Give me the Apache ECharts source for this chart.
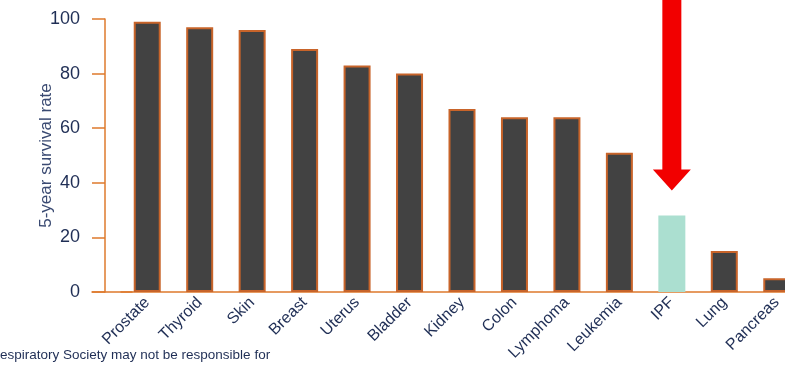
<!DOCTYPE html>
<html>
<head>
<meta charset="utf-8">
<script src="https://cdn.jsdelivr.net/npm/echarts@6/dist/echarts.min.js"></script>
<style>
  html, body { margin: 0; padding: 0; background: #ffffff; }
  #chart { width: 785px; height: 368px; }
</style>
</head>
<body>
<div id="chart"></div>
<script>
// 5-year survival rate by disease
const categories = ['Prostate', 'Thyroid', 'Skin', 'Breast', 'Uterus', 'Bladder', 'Kidney',
                    'Colon', 'Lymphoma', 'Leukemia', 'IPF', 'Lung', 'Pancreas'];
const survival = [99, 97, 96, 89, 83, 80, 67, 64, 64, 51, 28, 15, 5];
const highlighted = 'IPF';
const yTicks = [0, 20, 40, 60, 80, 100];

const axisOrange = '#DE7A2C';
const barDark = '#424242';
const barEdge = '#C8642A';
const highlightFill = '#ABDFD0';
const textNavy = '#1F2E55';
const fontFamily = '"Liberation Sans", Arial, sans-serif';

const chart = echarts.init(document.getElementById('chart'), null, { renderer: 'canvas' });

const barData = categories.map((c, i) => {
  if (c === highlighted) {
    return { value: survival[i], itemStyle: { color: highlightFill, borderWidth: 0 } };
  }
  return survival[i];
});

const option = {
  animation: false,
  backgroundColor: '#ffffff',
  grid: [
    // plot area runs past the right edge so the last bar is partly cut off
    { left: 121, top: 19, bottom: 76, right: -18, containLabel: false, outerBoundsMode: 'none' },
    // short stub that carries the baseline back to the value axis ticks
    { left: 92, top: 19, bottom: 76, width: 40, containLabel: false, outerBoundsMode: 'none' }
  ],
  xAxis: [
    {
      type: 'category',
      data: categories,
      gridIndex: 0,
      boundaryGap: true,
      axisLine: { show: true, lineStyle: { color: axisOrange, width: 1.5 } },
      axisTick: { show: false },
      axisLabel: {
        rotate: 45,
        margin: 8,
        color: textNavy,
        fontFamily: fontFamily,
        fontSize: 16,
        interval: 0
      }
    },
    {
      type: 'value',
      gridIndex: 1,
      min: 0,
      max: 1,
      axisLine: { show: true, onZero: false, lineStyle: { color: axisOrange, width: 1.5 } },
      axisTick: { show: false },
      axisLabel: { show: false },
      splitLine: { show: false }
    }
  ],
  yAxis: [
    {
      type: 'value',
      gridIndex: 0,
      min: yTicks[0],
      max: yTicks[yTicks.length - 1],
      interval: yTicks[1] - yTicks[0],
      offset: 16,
      name: '5-year survival rate',
      nameLocation: 'middle',
      nameGap: 50,
      nameMoveOverlap: false,
      nameTextStyle: {
        color: '#3A4A72',
        fontFamily: fontFamily,
        fontSize: 17
      },
      axisLine: { show: true, lineStyle: { color: axisOrange, width: 1.5 } },
      axisTick: { show: true, length: 13, lineStyle: { color: axisOrange, width: 1.5 } },
      axisLabel: {
        margin: 25,
        color: textNavy,
        fontFamily: fontFamily,
        fontSize: 18
      },
      splitLine: { show: false }
    },
    {
      type: 'value',
      gridIndex: 1,
      show: false,
      min: 0,
      max: 100
    }
  ],
  series: [
    {
      type: 'bar',
      xAxisIndex: 0,
      yAxisIndex: 0,
      data: barData,
      barWidth: 27,
      itemStyle: { color: barDark, borderColor: barEdge, borderWidth: 2 },
      markPoint: {
        silent: true,
        data: [{
          coord: [highlighted, survival[categories.indexOf(highlighted)]],
          symbol: 'path://M9.5,0 L28.5,0 L28.5,171 L38,171 L19,192 L0,171 L9.5,171 Z',
          symbolSize: [38, 192],
          symbolOffset: [0, -121],
          itemStyle: { color: '#F20000' },
          label: { show: false }
        }]
      }
    }
  ],
  graphic: [
    {
      type: 'text',
      left: 0,
      top: 348,
      style: {
        text: 'espiratory Society may not be responsible for',
        fill: textNavy,
        font: '13.5px "Liberation Sans", Arial, sans-serif'
      }
    }
  ]
};

chart.setOption(option);
</script>
</body>
</html>
